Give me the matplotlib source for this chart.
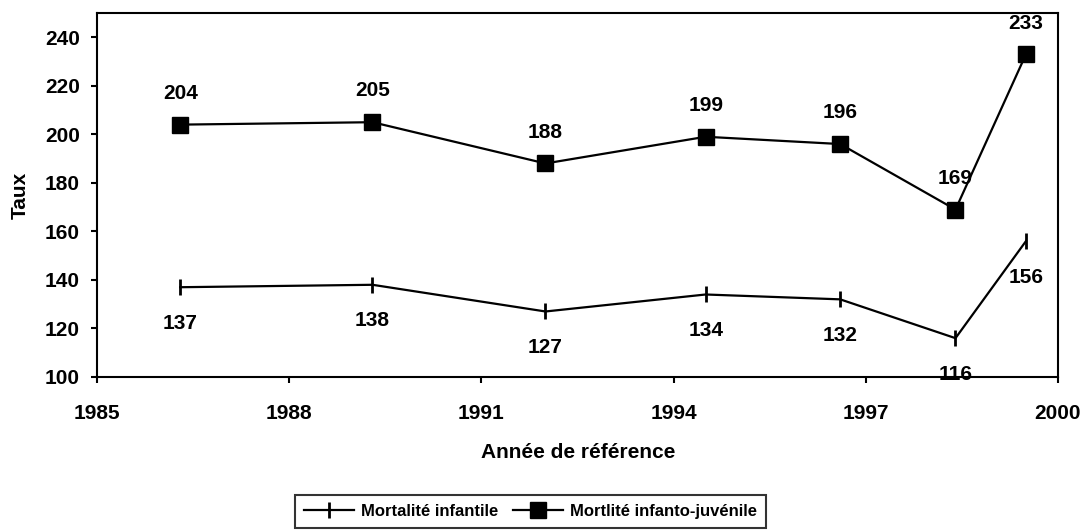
import matplotlib
matplotlib.use("Agg")
import matplotlib.pyplot as plt
from matplotlib import font_manager

plt.rcParams['font.family'] = ['Liberation Sans', 'DejaVu Sans']
plt.rcParams['font.weight'] = 'bold'

years = [1986.3, 1989.3, 1992.0, 1994.5, 1996.6, 1998.4, 1999.5]
infantile = [137, 138, 127, 134, 132, 116, 156]
infanto_juvenile = [204, 205, 188, 199, 196, 169, 233]
xticks = [1985, 1988, 1991, 1994, 1997, 2000]
yticks = [100, 120, 140, 160, 180, 200, 220, 240]
legend_labels = ['Mortalité infantile', 'Mortlité infanto-juvénile']

leg_prop = font_manager.FontProperties(family=['Liberation Sans', 'DejaVu Sans'],
                                       weight='bold', size=12)

W, H = 1084, 530
fig = plt.figure(figsize=(W / 100, H / 100), dpi=100)
ax = fig.add_axes([97 / W, 1 - 377 / H, (1058 - 97) / W, (377 - 13) / H])

ax.plot(years, infantile, color='black', lw=1.6, marker='|', markersize=12,
        markeredgewidth=2, label=legend_labels[0], clip_on=False)
ax.plot(years, infanto_juvenile, color='black', lw=1.6, marker='s', markersize=11,
        label=legend_labels[1], clip_on=False)

for x, y in zip(years, infanto_juvenile):
    ax.annotate(str(y), (x, y), xytext=(0, 22.5), textcoords='offset points',
                ha='center', va='center', fontsize=15, fontweight='bold')
for x, y in zip(years, infantile):
    ax.annotate(str(y), (x, y), xytext=(0, -26), textcoords='offset points',
                ha='center', va='center', fontsize=15, fontweight='bold')

ax.set_xlim(1985, 2000)
ax.set_ylim(100, 250)
ax.set_xticks(xticks)
ax.set_yticks(yticks)
ax.tick_params(direction='out', length=4.5, width=1.5, labelsize=15)
ax.tick_params(axis='x', pad=15)
ax.tick_params(axis='y', pad=8)
for lab in ax.get_xticklabels() + ax.get_yticklabels():
    lab.set_fontweight('bold')
for s in ax.spines.values():
    s.set_linewidth(1.5)
    s.set_color('black')

fig.text(578 / W, 1 - 453 / H, 'Année de référence', ha='center', va='center',
         fontsize=15, fontweight='bold')
fig.text(20 / W, 1 - 195 / H, 'Taux', ha='center', va='center', rotation=90,
         fontsize=15, fontweight='bold')

leg = fig.legend(loc='upper left', bbox_to_anchor=(295 / W, 1 - 495 / H),
                 ncol=2, frameon=True, fancybox=False, edgecolor='black',
                 handlelength=3.0, columnspacing=0.9,
                 handletextpad=0.4, borderpad=0.55, borderaxespad=0,
                 prop=leg_prop)
leg.get_frame().set_linewidth(1.5)

fig.savefig('out.png', dpi=100)
